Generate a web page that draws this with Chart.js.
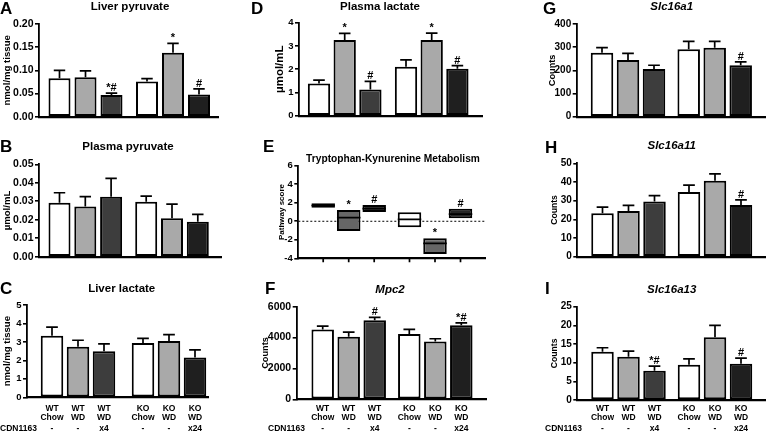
<!DOCTYPE html>
<html>
<head>
<meta charset="utf-8">
<script src="https://cdn.jsdelivr.net/npm/chart.js@4.4.1/dist/chart.umd.min.js"></script>
<style>
  html, body { margin: 0; padding: 0; background: #fff; }
  #fig { position: relative; width: 767px; height: 434px; overflow: hidden; }
  #fig canvas { position: absolute; left: 0; top: 0; }
</style>
</head>
<body>
<div id="fig"></div>
<script>
// bar order in every panel: WT Chow, WT WD, WT WD+CDN, KO Chow, KO WD, KO WD+CDN
const genotypes = ['WT', 'WT', 'WT', 'KO', 'KO', 'KO'];
const diets = ['Chow', 'WD', 'WD', 'Chow', 'WD', 'WD'];
const cdnDoses = ['-', '-', 'x4', '-', '-', 'x24'];

// A liver pyruvate
const liverPyruvate = [0.083, 0.085, 0.047, 0.076, 0.138, 0.048];
const liverPyruvateSem = [0.017, 0.014, 0.004, 0.006, 0.020, 0.012];
const liverPyruvateSig = ['', '', '*#', '', '*', '#'];
// B plasma pyruvate
const plasmaPyruvate = [0.0292, 0.0271, 0.0325, 0.0298, 0.0208, 0.0189];
const plasmaPyruvateSem = [0.0054, 0.0054, 0.0099, 0.0030, 0.0077, 0.0040];
// C liver lactate
const liverLactate = [3.34, 2.74, 2.49, 2.94, 3.05, 2.16];
const liverLactateSem = [0.46, 0.35, 0.40, 0.25, 0.34, 0.41];
// D plasma lactate
const plasmaLactate = [1.39, 3.26, 1.13, 2.11, 3.26, 2.02];
const plasmaLactateSem = [0.14, 0.28, 0.35, 0.29, 0.29, 0.13];
const plasmaLactateSig = ['', '*', '#', '', '*', '#'];
// E tryptophan-kynurenine pathway score (min, max, mid line)
const trpLow = [1.47, -1.06, 1.00, -0.65, -3.53, 0.32];
const trpHigh = [1.94, 1.22, 1.76, 0.97, -1.84, 1.36];
const trpMid = [1.70, 0.39, 1.36, 0.21, -2.38, 0.76];
const trpSig = ['', '*', '#', '', '*', '#'];
// F Mpc2
const mpc2 = [4530, 4050, 5130, 4230, 3750, 4790];
const mpc2Sem = [215, 300, 178, 300, 172, 168];
const mpc2Sig = ['', '', '#', '', '', '*#'];
// G Slc16a1
const slc16a1 = [276, 245, 206, 291, 298, 222];
const slc16a1Sem = [22, 28, 16, 34, 27, 15];
const slc16a1Sig = ['', '', '', '', '', '#'];
// H Slc16a11
const slc16a11 = [23.3, 24.5, 29.5, 34.7, 40.7, 27.7];
const slc16a11Sem = [3.2, 3.0, 3.2, 3.6, 3.6, 2.7];
const slc16a11Sig = ['', '', '', '', '', '#'];
// I Slc16a13
const slc16a13 = [12.9, 11.6, 7.85, 9.46, 16.8, 9.7];
const slc16a13Sem = [1.1, 1.5, 1.25, 1.54, 3.2, 1.5];
const slc16a13Sig = ['', '', '*#', '', '', '#'];

const barColors = ['#ffffff', '#a9a9a9', '#3d3d3d', '#ffffff', '#a9a9a9', '#1f1f1f'];
const boxColors = ['#ffffff', '#666666', '#383838', '#ffffff', '#666666', '#262626'];
const FONT = "'Liberation Sans', Arial, sans-serif";
const W = 767, H = 434;

const panels = [
  { letter: 'A', lx: 0, ly: 14, title: 'Liver pyruvate', tx: 130, ty: 10, tSize: 11.5,
    yTitle: 'nmol/mg tissue', ylabX: 7.5, ySize: 9.6, tickSize: 10.5,
    axisL: 39, axisR: 218, top: 24, bottom: 116.7,
    g1: 85.5, g2: 173, slot: 26, barW: 22, yMax: 0.2, step: 0.05, dec: 2,
    values: liverPyruvate, sem: liverPyruvateSem, sig: liverPyruvateSig },
  { letter: 'B', lx: 0, ly: 152, title: 'Plasma pyruvate', tx: 128, ty: 150, tSize: 11.5,
    yTitle: 'µmol/mL', ylabX: 7.5, ySize: 9.6, tickSize: 10.5,
    axisL: 39, axisR: 221, top: 164.3, bottom: 256.7,
    g1: 85.3, g2: 172, slot: 25.8, barW: 22, yMax: 0.05, step: 0.01, dec: 2,
    values: plasmaPyruvate, sem: plasmaPyruvateSem },
  { letter: 'C', lx: 0, ly: 293.5, title: 'Liver lactate', tx: 121.7, ty: 291.5, tSize: 11.5,
    yTitle: 'nmol/mg tissue', ylabX: 7.5, ySize: 9.6, tickSize: 9.5,
    axisL: 27, axisR: 208, top: 305, bottom: 397.3,
    g1: 78, g2: 169, slot: 26, barW: 22.5, yMax: 5, step: 1, dec: 0,
    values: liverLactate, sem: liverLactateSem, xLabels: true, cdnX: 0 },
  { letter: 'D', lx: 251, ly: 14, title: 'Plasma lactate', tx: 380, ty: 10, tSize: 11.5,
    yTitle: 'µmol/mL', ylabX: 279.5, ySize: 11.5, tickSize: 9.5,
    axisL: 299, axisR: 482, top: 22.7, bottom: 115.7,
    g1: 344.7, g2: 431.7, slot: 25.7, barW: 22.3, yMax: 4, step: 1, dec: 0,
    values: plasmaLactate, sem: plasmaLactateSem, sig: plasmaLactateSig },
  { letter: 'E', lx: 263, ly: 152, title: 'Tryptophan-Kynurenine Metabolism', tx: 393, ty: 161.5, tSize: 10.2,
    yTitle: 'Pathway score', ylabX: 281.5, ySize: 8, tickSize: 9.5,
    axisL: 298.3, axisR: 485, top: 165.7, bottom: 258.3,
    g1: 348.7, g2: 435, slot: 25.5, barW: 23.5, yMin: -4, yMax: 6, step: 2, dec: 0,
    box: true, sig: trpSig },
  { letter: 'F', lx: 265, ly: 293.5, title: 'Mpc2', italic: true, tx: 390, ty: 292.5, tSize: 11.5,
    yTitle: 'Counts', ylabX: 265, ySize: 9.2, tickSize: 10.5,
    axisL: 296.7, axisR: 486.7, top: 306.7, bottom: 399.3,
    g1: 348.7, g2: 435.3, slot: 26, barW: 22.5, yMax: 6000, step: 2000, dec: 0,
    values: mpc2, sem: mpc2Sem, sig: mpc2Sig, xLabels: true, cdnX: 268 },
  { letter: 'G', lx: 543, ly: 13.5, title: 'Slc16a1', italic: true, tx: 671.7, ty: 9.5, tSize: 11.5,
    yTitle: 'Counts', ylabX: 552, ySize: 9.2, tickSize: 10,
    axisL: 576.7, axisR: 765, top: 24, bottom: 116.7,
    g1: 628, g2: 714.7, slot: 26, barW: 22.5, yMax: 400, step: 100, dec: 0,
    values: slc16a1, sem: slc16a1Sem, sig: slc16a1Sig },
  { letter: 'H', lx: 545, ly: 152.5, title: 'Slc16a11', italic: true, tx: 671.7, ty: 148.5, tSize: 11.5,
    yTitle: 'Counts', ylabX: 555, ySize: 8.6, tickSize: 10,
    axisL: 577.3, axisR: 765, top: 163.3, bottom: 256.7,
    g1: 628.5, g2: 715, slot: 26, barW: 22.5, yMax: 50, step: 10, dec: 0,
    values: slc16a11, sem: slc16a11Sem, sig: slc16a11Sig },
  { letter: 'I', lx: 545, ly: 293.5, title: 'Slc16a13', italic: true, tx: 671.7, ty: 292.5, tSize: 11.5,
    yTitle: 'Counts', ylabX: 555, ySize: 8.6, tickSize: 10,
    axisL: 577.3, axisR: 765, top: 306.7, bottom: 400,
    g1: 628.5, g2: 715, slot: 26, barW: 22.5, yMax: 25, step: 5, dec: 0,
    values: slc16a13, sem: slc16a13Sem, sig: slc16a13Sig, xLabels: true, cdnX: 545 }
];

function forEachBar(chart, fn) {
  for (let d = 0; d < 3; d++) {
    chart.getDatasetMeta(d).data.forEach((el, g) => fn(el, g * 3 + d));
  }
}

function decor(p) {
  return {
    id: 'decor' + p.letter,
    beforeDatasetsDraw(chart) {
      if (!p.box) return;
      const ctx = chart.ctx, y = chart.scales.y, a = chart.chartArea;
      const y0 = y.getPixelForValue(0);
      ctx.save();
      ctx.strokeStyle = '#000';
      ctx.lineWidth = 1;
      ctx.setLineDash([2, 2]);
      ctx.beginPath();
      ctx.moveTo(a.left, y0);
      ctx.lineTo(a.right, y0);
      ctx.stroke();
      ctx.restore();
    },
    afterDatasetsDraw(chart) {
      const ctx = chart.ctx, y = chart.scales.y, a = chart.chartArea;
      ctx.save();
      ctx.strokeStyle = '#000';
      ctx.fillStyle = '#000';
      ctx.lineWidth = 1.7;
      ctx.textAlign = 'center';
      ctx.font = 'bold 11px ' + FONT;
      forEachBar(chart, (el, i) => {
        let top;
        if (p.box) {
          // mid line and x-axis tick
          const ym = y.getPixelForValue(trpMid[i]);
          ctx.beginPath();
          ctx.moveTo(el.x - el.width / 2, ym);
          ctx.lineTo(el.x + el.width / 2, ym);
          ctx.moveTo(el.x, a.bottom);
          ctx.lineTo(el.x, a.bottom + 4);
          ctx.stroke();
          top = y.getPixelForValue(trpHigh[i]);
        } else {
          const yb = y.getPixelForValue(p.values[i]);
          top = y.getPixelForValue(p.values[i] + p.sem[i]);
          const cap = el.width * 0.26;
          ctx.beginPath();
          ctx.moveTo(el.x, yb);
          ctx.lineTo(el.x, top);
          ctx.moveTo(el.x - cap, top);
          ctx.lineTo(el.x + cap, top);
          ctx.stroke();
        }
        if (p.sig && p.sig[i]) ctx.fillText(p.sig[i], el.x, top - 2);
      });
      ctx.restore();
    },
    afterDraw(chart) {
      const ctx = chart.ctx;
      ctx.save();
      ctx.fillStyle = '#000';
      ctx.textBaseline = 'alphabetic';
      ctx.textAlign = 'left';
      ctx.font = 'bold 17px ' + FONT;
      ctx.fillText(p.letter, p.lx, p.ly);
      ctx.textAlign = 'center';
      ctx.font = (p.italic ? 'italic ' : '') + 'bold ' + p.tSize + 'px ' + FONT;
      ctx.fillText(p.title, p.tx, p.ty);
      if (p.xLabels) {
        ctx.font = 'bold 8.5px ' + FONT;
        forEachBar(chart, (el, i) => {
          ctx.fillText(genotypes[i], el.x, 410.5);
          ctx.fillText(diets[i], el.x, 419.5);
          ctx.fillText(cdnDoses[i], el.x, 431);
        });
        ctx.textAlign = 'left';
        ctx.fillText('CDN1163', p.cdnX, 431);
      }
      ctx.restore();
    }
  };
}

function makePanel(p) {
  const canvas = document.createElement('canvas');
  canvas.width = W;
  canvas.height = H;
  document.getElementById('fig').appendChild(canvas);

  const unit = p.g2 - p.g1;
  const padLeft = p.ylabX - p.ySize / 2;
  const colors = p.box ? boxColors : barColors;
  const datasets = [0, 1, 2].map(d => ({
    data: [0, 1].map(g => {
      const i = g * 3 + d;
      return { x: g, y: p.box ? [trpLow[i], trpHigh[i]] : p.values[i] };
    }),
    backgroundColor: [colors[d], colors[3 + d]],
    borderColor: '#000',
    borderWidth: 2,
    borderSkipped: false,
    categoryPercentage: 3 * p.slot / unit,
    barPercentage: p.barW / p.slot
  }));

  new Chart(canvas, {
    type: 'bar',
    data: { datasets },
    options: {
      responsive: false,
      animation: false,
      devicePixelRatio: 1,
      events: [],
      layout: { padding: { left: padLeft, top: p.top, right: W - p.axisR, bottom: H - p.bottom } },
      plugins: { legend: { display: false }, tooltip: { enabled: false } },
      scales: {
        x: {
          type: 'linear',
          offset: false,
          min: -(p.g1 - p.axisL) / unit,
          max: 1 + (p.axisR - p.g2) / unit,
          afterBuildTicks: s => { s.ticks = [{ value: 0 }, { value: 1 }]; },
          ticks: { display: false },
          grid: { display: false },
          border: { color: '#000', width: 2.2 },
          afterFit: s => { s.height = 0; }
        },
        y: {
          min: p.yMin || 0,
          max: p.yMax,
          ticks: {
            stepSize: p.step,
            color: '#000',
            padding: 1.5,
            font: { family: FONT, size: p.tickSize, weight: 'bold' },
            callback: v => v.toFixed(p.dec)
          },
          grid: { drawOnChartArea: false, color: '#000', lineWidth: 1.6, tickLength: 4 },
          border: { color: '#000', width: 1.8 },
          title: {
            display: true,
            text: p.yTitle,
            color: '#000',
            padding: 0,
            font: { family: FONT, size: p.ySize, weight: 'bold', lineHeight: 1 }
          },
          afterFit: s => { s.width = p.axisL - padLeft; }
        }
      }
    },
    plugins: [decor(p)]
  });
}

panels.forEach(makePanel);
</script>
</body>
</html>
